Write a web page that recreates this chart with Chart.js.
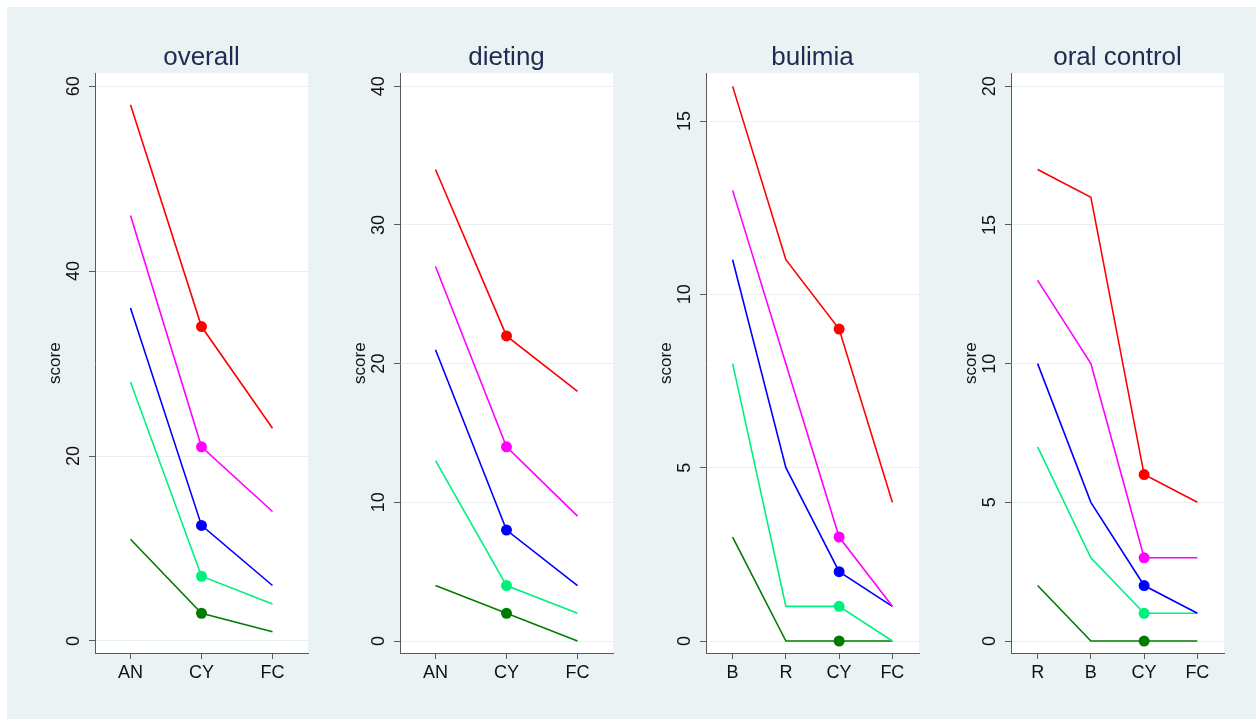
<!DOCTYPE html>
<html>
<head>
<meta charset="utf-8">
<script src="https://cdn.jsdelivr.net/npm/chart.js@4.4.1/dist/chart.umd.min.js"></script>
<style>
  body { margin: 0; background: #fff; width: 1256px; height: 719px; overflow: hidden; position: relative; }
  #bg { position: absolute; left: 7px; top: 7px; right: 0; bottom: 0; background: rgb(234,242,243); }
  .panel { position: absolute; top: 0; height: 719px; width: 300px; }
</style>
</head>
<body>
<div id="bg"></div>
<div class="panel" style="left:20px"><canvas id="c1"></canvas></div>
<div class="panel" style="left:325px"><canvas id="c2"></canvas></div>
<div class="panel" style="left:631px"><canvas id="c3"></canvas></div>
<div class="panel" style="left:936px"><canvas id="c4"></canvas></div>
<script>
// categories
const catsOverall = ['AN', 'CY', 'FC'];
const catsDieting = ['AN', 'CY', 'FC'];
const catsBulimia = ['B', 'R', 'CY', 'FC'];
const catsOral = ['R', 'B', 'CY', 'FC'];

// tick labels
const ticksOverall = [0, 20, 40, 60];
const ticksDieting = [0, 10, 20, 30, 40];
const ticksBulimia = [0, 5, 10, 15];
const ticksOral = [0, 5, 10, 15, 20];

// overall
const overallRed = [58, 34, 23];
const overallMagenta = [46, 21, 14];
const overallBlue = [36, 12.5, 6];
const overallGreen = [28, 7, 4];
const overallDkGreen = [11, 3, 1];

// dieting
const dietingRed = [34, 22, 18];
const dietingMagenta = [27, 14, 9];
const dietingBlue = [21, 8, 4];
const dietingGreen = [13, 4, 2];
const dietingDkGreen = [4, 2, 0];

// bulimia
const bulimiaRed = [16, 11, 9, 4];
const bulimiaMagenta = [13, 8, 3, 1];
const bulimiaBlue = [11, 5, 2, 1];
const bulimiaGreen = [8, 1, 1, 0];
const bulimiaDkGreen = [3, 0, 0, 0];

// oral control
const oralRed = [17, 16, 6, 5];
const oralMagenta = [13, 10, 3, 3];
const oralBlue = [10, 5, 2, 1];
const oralGreen = [7, 3, 1, 1];
const oralDkGreen = [2, 0, 0, 0];

const colors = ['#ff0000', '#ff00ff', '#0000ff', '#00f07e', '#007d00'];
const axisCol = '#5a5a5a';
const font = 'Liberation Sans, Arial, Helvetica, sans-serif';

// white plot region, the rest stays the page's bluish grey
const plotBg = {
  id: 'plotBg',
  beforeDraw(chart) {
    const a = chart.chartArea;
    chart.ctx.save();
    chart.ctx.fillStyle = '#fff';
    chart.ctx.fillRect(a.left, a.top, a.right - a.left, a.bottom - a.top);
    chart.ctx.restore();
  }
};

function makePanel(id, title, cats, series, yTicks, yMin, yMax) {
  const markAt = cats.indexOf('CY');
  new Chart(document.getElementById(id), {
    type: 'line',
    data: {
      labels: cats,
      datasets: series.map((s, i) => ({
        data: s,
        borderColor: colors[i],
        backgroundColor: colors[i],
        borderWidth: 1.6,
        tension: 0,
        pointRadius: ctx => ctx.dataIndex === markAt ? 5.5 : 0,
        pointHoverRadius: ctx => ctx.dataIndex === markAt ? 5.5 : 0,
        pointBorderWidth: 0
      }))
    },
    options: {
      responsive: true,
      maintainAspectRatio: false,
      animation: false,
      layout: { padding: { left: 0, right: 12, top: 0, bottom: 0 } },
      plugins: {
        legend: { display: false },
        tooltip: { enabled: false },
        title: {
          display: true,
          fullSize: false, // centre over the plot, not the canvas
          text: title,
          color: '#1e2b52',
          font: { family: font, size: 26, weight: 'normal' },
          padding: { top: 42, bottom: 0 }
        }
      },
      scales: {
        x: {
          type: 'category',
          offset: true,
          afterFit: s => { s.height = 66; },
          border: { display: true, color: axisCol, width: 1 },
          grid: { display: true, drawOnChartArea: false, offset: false, tickLength: 6, tickColor: axisCol, tickWidth: 1 },
          ticks: { color: '#111', padding: 3, font: { family: font, size: 18 }, maxRotation: 0 }
        },
        y: {
          min: yMin,
          max: yMax,
          afterFit: s => { s.width = 75; },
          afterBuildTicks: s => { s.ticks = yTicks.map(v => ({ value: v })); },
          border: { display: true, color: axisCol, width: 1 },
          grid: { color: 'rgb(232,240,242)', lineWidth: 1, tickLength: 6, tickColor: axisCol, tickWidth: 1 },
          ticks: {
            color: '#111',
            minRotation: 90,
            maxRotation: 90,
            crossAlign: 'center',
            padding: 5,
            font: { family: font, size: 18 }
          },
          title: {
            display: true,
            text: 'score',
            color: '#111',
            font: { family: font, size: 17 },
            padding: { top: 25, bottom: 0 }
          }
        }
      }
    },
    plugins: [plotBg]
  });
}

makePanel('c1', 'overall', catsOverall,
  [overallRed, overallMagenta, overallBlue, overallGreen, overallDkGreen],
  ticksOverall, -1.3, 61.4);
makePanel('c2', 'dieting', catsDieting,
  [dietingRed, dietingMagenta, dietingBlue, dietingGreen, dietingDkGreen],
  ticksDieting, -0.865, 40.94);
makePanel('c3', 'bulimia', catsBulimia,
  [bulimiaRed, bulimiaMagenta, bulimiaBlue, bulimiaGreen, bulimiaDkGreen],
  ticksBulimia, -0.346, 16.38);
makePanel('c4', 'oral control', catsOral,
  [oralRed, oralMagenta, oralBlue, oralGreen, oralDkGreen],
  ticksOral, -0.432, 20.47);
</script>
</body>
</html>
